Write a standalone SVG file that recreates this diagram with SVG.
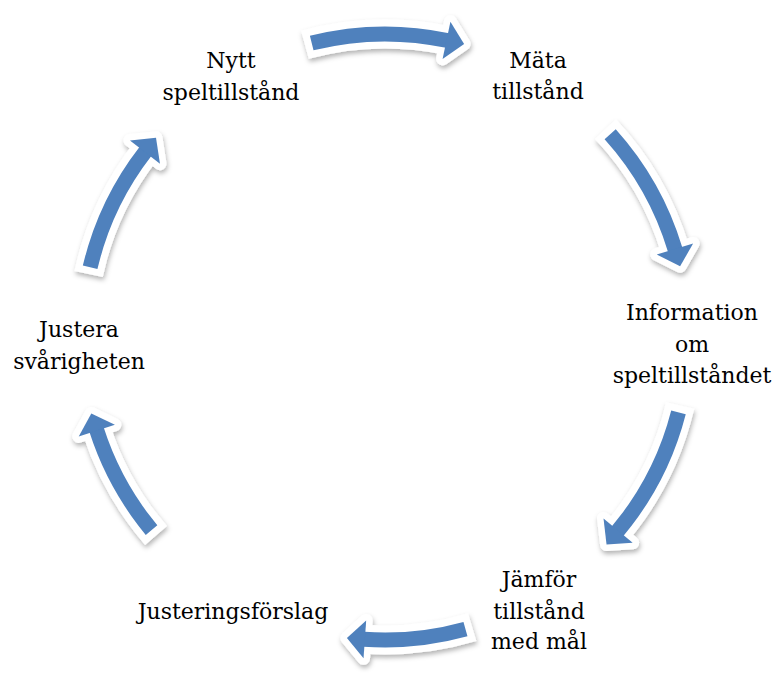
<svg xmlns="http://www.w3.org/2000/svg" width="775" height="677" viewBox="0 0 775 677">
<defs>
<filter id="sh" x="-30%" y="-30%" width="160%" height="160%">
<feDropShadow dx="1" dy="3" stdDeviation="2.5" flood-color="#000" flood-opacity="0.3"/>
</filter>
</defs>
<style>
.bw{fill:none;stroke:#fff;stroke-width:29}
.bb{fill:none;stroke:#4F81BD;stroke-width:15}
.hw{fill:#fff;stroke:#fff;stroke-width:13;stroke-linejoin:round}
.hb{fill:#4F81BD}
text{font-family:"DejaVu Serif","Liberation Serif",serif;font-size:22px;fill:#000;text-anchor:middle}
</style>
<rect width="775" height="677" fill="#fff"/>
<g id="connectors">
<g id="a1" filter="url(#sh)">
<circle class="bw" cx="385" cy="337" r="303" stroke-dasharray="144 2000" transform="rotate(-105.32 385 337)"/>
<polygon class="hw" points="384,15 402,34 384,53" transform="rotate(11.9 385 337)"/>
<circle class="bb" cx="385" cy="337" r="303" stroke-dasharray="137 2000" transform="rotate(-104 385 337)"/>
<polygon class="hb" points="384,15 402,34 384,53" transform="rotate(11.9 385 337)"/>
</g>
<g id="a2" filter="url(#sh)">
<circle class="bw" cx="385" cy="337" r="303" stroke-dasharray="140.8 2000" transform="rotate(-43.32 385 337)"/>
<polygon class="hw" points="384,15 402,34 384,53" transform="rotate(73.3 385 337)"/>
<circle class="bb" cx="385" cy="337" r="303" stroke-dasharray="133.8 2000" transform="rotate(-42 385 337)"/>
<polygon class="hb" points="384,15 402,34 384,53" transform="rotate(73.3 385 337)"/>
</g>
<g id="a3" filter="url(#sh)">
<circle class="bw" cx="385" cy="337" r="303" stroke-dasharray="141.9 2000" transform="rotate(13.08 385 337)"/>
<polygon class="hw" points="384,15 402,34 384,53" transform="rotate(129.9 385 337)"/>
<circle class="bb" cx="385" cy="337" r="303" stroke-dasharray="134.9 2000" transform="rotate(14.4 385 337)"/>
<polygon class="hb" points="384,15 402,34 384,53" transform="rotate(129.9 385 337)"/>
</g>
<g id="a4" filter="url(#sh)">
<circle class="bw" cx="385" cy="337" r="303" stroke-dasharray="109.6 2000" transform="rotate(73.28 385 337)"/>
<polygon class="hw" points="384,15 402,34 384,53" transform="rotate(184 385 337)"/>
<circle class="bb" cx="385" cy="337" r="303" stroke-dasharray="102.6 2000" transform="rotate(74.6 385 337)"/>
<polygon class="hb" points="384,15 402,34 384,53" transform="rotate(184 385 337)"/>
</g>
<g id="a5" filter="url(#sh)">
<circle class="bw" cx="385" cy="337" r="303" stroke-dasharray="122.3 2000" transform="rotate(139.08 385 337)"/>
<polygon class="hw" points="384,15 402,34 384,53" transform="rotate(252.2 385 337)"/>
<circle class="bb" cx="385" cy="337" r="303" stroke-dasharray="115.3 2000" transform="rotate(140.4 385 337)"/>
<polygon class="hb" points="384,15 402,34 384,53" transform="rotate(252.2 385 337)"/>
</g>
<g id="a6" filter="url(#sh)">
<circle class="bw" cx="385" cy="337" r="303" stroke-dasharray="136.6 2000" transform="rotate(191.98 385 337)"/>
<polygon class="hw" points="384,15 402,34 384,53" transform="rotate(307.8 385 337)"/>
<circle class="bb" cx="385" cy="337" r="303" stroke-dasharray="129.6 2000" transform="rotate(193.3 385 337)"/>
<polygon class="hb" points="384,15 402,34 384,53" transform="rotate(307.8 385 337)"/>
</g>
</g>
<g id="n1"><text x="231" y="68">Nytt</text><text x="231" y="100">speltillstånd</text></g>
<g id="n2"><text x="538" y="68">Mäta</text><text x="538" y="99">tillstånd</text></g>
<g id="n3"><text x="692" y="320">Information</text><text x="692" y="352">om</text><text x="692" y="383">speltillståndet</text></g>
<g id="n4"><text x="539" y="587">Jämför</text><text x="539" y="619">tillstånd</text><text x="539" y="649">med mål</text></g>
<g id="n5"><text x="233" y="619">Justeringsförslag</text></g>
<g id="n6"><text x="79" y="337">Justera</text><text x="79" y="369">svårigheten</text></g>
</svg>
